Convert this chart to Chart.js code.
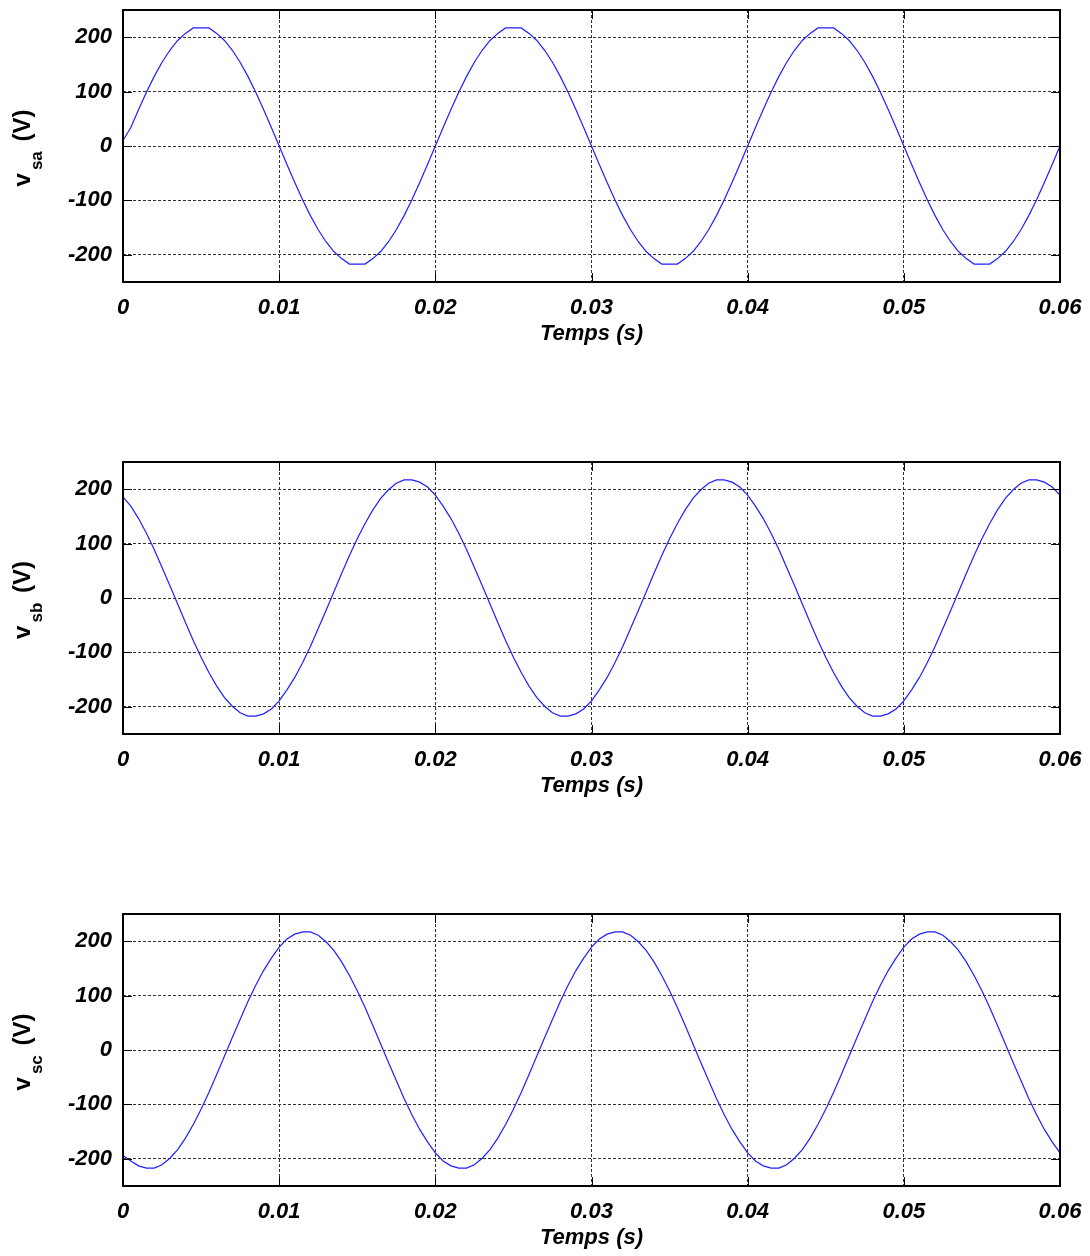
<!DOCTYPE html>
<html>
<head>
<meta charset="utf-8">
<script src="https://cdn.jsdelivr.net/npm/chart.js@4.4.1/dist/chart.umd.min.js"></script>
<style>
  html, body { margin: 0; padding: 0; background: #fff; }
  #page { position: relative; width: 1090px; height: 1256px; }
  .panel { position: absolute; left: 0; width: 1090px; height: 352px; }
</style>
</head>
<body>
<div id="page">
  <div class="panel" style="top:0px"><canvas id="vsa" width="1090" height="352"></canvas></div>
  <div class="panel" style="top:452px"><canvas id="vsb" width="1090" height="352"></canvas></div>
  <div class="panel" style="top:904px"><canvas id="vsc" width="1090" height="352"></canvas></div>
</div>
<script>
// sample instants (s)
const time = [
  0, 0.0005, 0.001, 0.0015, 0.002, 0.0025, 0.003, 0.0035, 0.004, 0.0045,
  0.005, 0.0055, 0.006, 0.0065, 0.007, 0.0075, 0.008, 0.0085, 0.009, 0.0095,
  0.01, 0.0105, 0.011, 0.0115, 0.012, 0.0125, 0.013, 0.0135, 0.014, 0.0145,
  0.015, 0.0155, 0.016, 0.0165, 0.017, 0.0175, 0.018, 0.0185, 0.019, 0.0195,
  0.02, 0.0205, 0.021, 0.0215, 0.022, 0.0225, 0.023, 0.0235, 0.024, 0.0245,
  0.025, 0.0255, 0.026, 0.0265, 0.027, 0.0275, 0.028, 0.0285, 0.029, 0.0295,
  0.03, 0.0305, 0.031, 0.0315, 0.032, 0.0325, 0.033, 0.0335, 0.034, 0.0345,
  0.035, 0.0355, 0.036, 0.0365, 0.037, 0.0375, 0.038, 0.0385, 0.039, 0.0395,
  0.04, 0.0405, 0.041, 0.0415, 0.042, 0.0425, 0.043, 0.0435, 0.044, 0.0445,
  0.045, 0.0455, 0.046, 0.0465, 0.047, 0.0475, 0.048, 0.0485, 0.049, 0.0495,
  0.05, 0.0505, 0.051, 0.0515, 0.052, 0.0525, 0.053, 0.0535, 0.054, 0.0545,
  0.055, 0.0555, 0.056, 0.0565, 0.057, 0.0575, 0.058, 0.0585, 0.059, 0.0595,
  0.06
];

// source phase voltages (V)
const vsa = [
  10, 34, 67, 99, 128, 154, 176, 194, 207, 217, 217, 217, 207, 194, 176, 154, 128, 99, 67, 34,
  0, -34, -67, -99, -128, -154, -176, -194, -207, -217, -217, -217, -207, -194, -176, -154, -128, -99, -67, -34,
  0, 34, 67, 99, 128, 154, 176, 194, 207, 217, 217, 217, 207, 194, 176, 154, 128, 99, 67, 34,
  0, -34, -67, -99, -128, -154, -176, -194, -207, -217, -217, -217, -207, -194, -176, -154, -128, -99, -67, -34,
  0, 34, 67, 99, 128, 154, 176, 194, 207, 217, 217, 217, 207, 194, 176, 154, 128, 99, 67, 34,
  0, -34, -67, -99, -128, -154, -176, -194, -207, -217, -217, -217, -207, -194, -176, -154, -128, -99, -67, -34,
  0
];
const vsb = [
  186, 169, 146, 119, 89, 56, 23, -11, -45, -78, -109, -137, -162, -183, -199, -211, -217, -217, -213, -204,
  -189, -169, -146, -119, -89, -56, -23, 11, 45, 78, 109, 137, 162, 183, 199, 211, 217, 217, 213, 204,
  189, 169, 146, 119, 89, 56, 23, -11, -45, -78, -109, -137, -162, -183, -199, -211, -217, -217, -213, -204,
  -189, -169, -146, -119, -89, -56, -23, 11, 45, 78, 109, 137, 162, 183, 199, 211, 217, 217, 213, 204,
  189, 169, 146, 119, 89, 56, 23, -11, -45, -78, -109, -137, -162, -183, -199, -211, -217, -217, -213, -204,
  -189, -169, -146, -119, -89, -56, -23, 11, 45, 78, 109, 137, 162, 183, 199, 211, 217, 217, 213, 204,
  189
];
const vsc = [
  -194, -204, -213, -217, -217, -211, -199, -183, -162, -137, -109, -78, -45, -11, 23, 56, 89, 119, 146, 169,
  189, 204, 213, 217, 217, 211, 199, 183, 162, 137, 109, 78, 45, 11, -23, -56, -89, -119, -146, -169,
  -189, -204, -213, -217, -217, -211, -199, -183, -162, -137, -109, -78, -45, -11, 23, 56, 89, 119, 146, 169,
  189, 204, 213, 217, 217, 211, 199, 183, 162, 137, 109, 78, 45, 11, -23, -56, -89, -119, -146, -169,
  -189, -204, -213, -217, -217, -211, -199, -183, -162, -137, -109, -78, -45, -11, 23, 56, 89, 119, 146, 169,
  189, 204, 213, 217, 217, 211, 199, 183, 162, 137, 109, 78, 45, 11, -23, -56, -89, -119, -146, -169,
  -189
];

const xTicks = [0, 0.01, 0.02, 0.03, 0.04, 0.05, 0.06];
const xTickLabels = ['0', '0.01', '0.02', '0.03', '0.04', '0.05', '0.06'];
const yTicks = [-200, -100, 0, 100, 200];
const yTickLabels = ['-200', '-100', '0', '100', '200'];
const xTitle = 'Temps (s)';

const FONT = "'Liberation Sans', Arial, sans-serif";

// frame, inward tick marks and axis titles (the y title carries a subscript)
const axesDecor = {
  id: 'axesDecor',
  afterDraw(chart, args, opts) {
    const { ctx, chartArea: a, scales } = chart;
    const tl = 9;
    ctx.save();
    ctx.strokeStyle = '#000';
    ctx.lineWidth = 1;
    ctx.beginPath();
    scales.x.ticks.forEach(t => {
      const px = Math.round(scales.x.getPixelForValue(t.value)) + 0.5;
      ctx.moveTo(px, a.bottom); ctx.lineTo(px, a.bottom - tl);
      ctx.moveTo(px, a.top); ctx.lineTo(px, a.top + tl);
    });
    scales.y.ticks.forEach(t => {
      const py = Math.round(scales.y.getPixelForValue(t.value)) + 0.5;
      ctx.moveTo(a.left, py); ctx.lineTo(a.left + tl, py);
      ctx.moveTo(a.right, py); ctx.lineTo(a.right - tl, py);
    });
    ctx.stroke();

    ctx.lineWidth = 2;
    ctx.strokeRect(a.left, a.top, a.right - a.left, a.bottom - a.top);

    // x title
    ctx.fillStyle = '#000';
    ctx.textAlign = 'center';
    ctx.textBaseline = 'alphabetic';
    ctx.font = `italic bold 22px ${FONT}`;
    ctx.fillText(xTitle, (a.left + a.right) / 2, a.bottom + 58);

    // y title: v_<sub> (V), rotated
    const main = `bold 24px ${FONT}`, small = `bold 17px ${FONT}`;
    ctx.font = main; const wv = ctx.measureText('v').width;
    ctx.font = small; const ws = ctx.measureText(opts.sub).width;
    ctx.font = main; const wu = ctx.measureText(' (V)').width;
    const gap = 3, gap2 = 3;
    const total = wv + gap + ws + gap2 + wu;
    ctx.translate(30, (a.top + a.bottom) / 2 + 2);
    ctx.rotate(-Math.PI / 2);
    ctx.textAlign = 'left';
    const x0 = -total / 2;
    ctx.font = main; ctx.fillText('v', x0, 0);
    ctx.font = small; ctx.fillText(opts.sub, x0 + wv + gap, 12);
    ctx.font = main; ctx.fillText(' (V)', x0 + wv + gap + ws + gap2, 0);
    ctx.restore();
  }
};

function makePanel(id, values, sub) {
  new Chart(document.getElementById(id), {
    type: 'line',
    data: {
      datasets: [{
        data: time.map((t, i) => ({ x: t, y: values[i] })),
        borderColor: '#1f1fff',
        borderWidth: 1.2,
        pointRadius: 0,
        tension: 0,
        fill: false
      }]
    },
    options: {
      responsive: false,
      animation: false,
      devicePixelRatio: 1,
      layout: { padding: { top: 10, right: 30, left: 0, bottom: 0 } },
      plugins: {
        legend: { display: false },
        tooltip: { enabled: false },
        axesDecor: { sub: sub }
      },
      scales: {
        x: {
          type: 'linear',
          min: 0,
          max: 0.06,
          afterBuildTicks: s => { s.ticks = xTicks.map(v => ({ value: v })); },
          afterFit: s => {
            s.height = 70;
            s.paddingLeft = 0; s.paddingRight = 0;
          },
          grid: { color: '#333', lineWidth: 1, drawTicks: false },
          border: { display: false, dash: [3, 2] },
          ticks: {
            color: '#000',
            padding: 13,
            maxRotation: 0,
            autoSkip: false,
            font: { family: FONT, size: 22, style: 'italic', weight: 'bold' },
            callback: v => xTickLabels[xTicks.indexOf(v)]
          }
        },
        y: {
          min: -250,
          max: 250,
          afterBuildTicks: s => { s.ticks = yTicks.map(v => ({ value: v })); },
          afterFit: s => {
            s.width = 123;
            s.paddingTop = 0; s.paddingBottom = 0;
          },
          grid: { color: '#333', lineWidth: 1, drawTicks: false },
          border: { display: false, dash: [3, 2] },
          ticks: {
            color: '#000',
            padding: 11,
            font: { family: FONT, size: 22, style: 'italic', weight: 'bold' },
            callback: v => yTickLabels[yTicks.indexOf(v)]
          }
        }
      }
    },
    plugins: [axesDecor]
  });
}

makePanel('vsa', vsa, 'sa');
makePanel('vsb', vsb, 'sb');
makePanel('vsc', vsc, 'sc');
</script>
</body>
</html>
